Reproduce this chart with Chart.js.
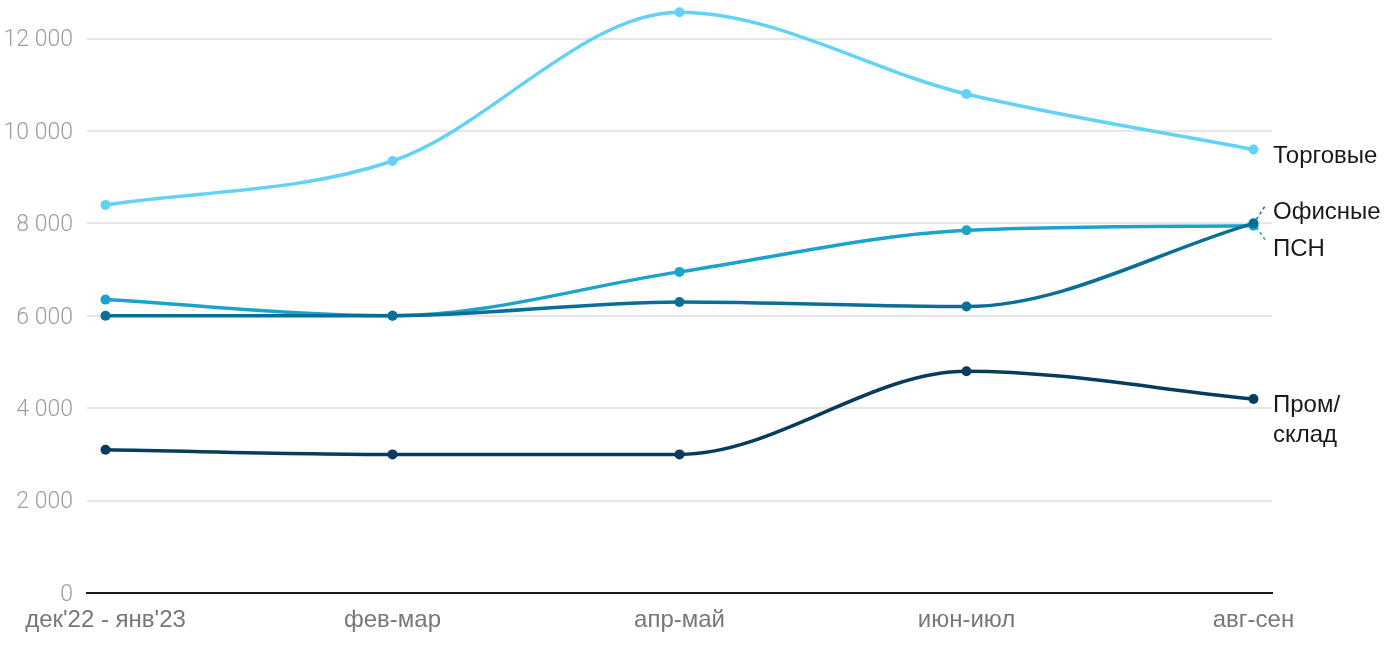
<!DOCTYPE html>
<html>
<head>
<meta charset="utf-8">
<script src="https://cdn.jsdelivr.net/npm/chart.js@4"></script>
<style>
  html, body { margin:0; padding:0; background:#fff; }
  #wrap { width:1400px; height:650px; position:relative; }
</style>
</head>
<body>
<div id="wrap"><canvas id="c"></canvas></div>
<script>
// периоды и значения
const periods  = ["дек'22 - янв'23", 'фев-мар', 'апр-май', 'июн-июл', 'авг-сен'];
const trade    = [8400, 9350, 12570, 10800, 9600];
const office   = [6350, 6000, 6950, 7850, 7950];
const psn      = [6000, 6000, 6300, 6200, 8000];
const industry = [3100, 3000, 3000, 4800, 4200];
const yTicks   = [0, 2000, 4000, 6000, 8000, 10000, 12000];

const COL = { trade:'#62d2f7', office:'#1ba3cc', psn:'#0a6f96', industry:'#063d5e' };

const fmt = v => String(v).replace(/\B(?=(\d{3})+(?!\d))/g, ' ');
const pts = arr => arr.map((v, i) => ({ x: i, y: v }));

function ds(label, arr, color, extra) {
  return Object.assign({
    label, data: pts(arr), borderColor: color, backgroundColor: color,
    borderWidth: 3.5, pointRadius: 5, pointHoverRadius: 5, pointBorderWidth: 0,
    cubicInterpolationMode: 'monotone', clip: false
  }, extra || {});
}

// подписи справа от последних точек
const endLabels = {
  id: 'endLabels',
  afterDatasetsDraw(chart) {
    const { ctx } = chart;
    const xs = chart.scales.x, ys = chart.scales.y;
    const px = xs.getPixelForValue(4);
    const x0 = 1273;
    ctx.save();
    ctx.font = '24px "Liberation Sans", Arial';
    ctx.fillStyle = '#1a1a1a';
    ctx.textBaseline = 'middle';
    ctx.textAlign = 'left';
    ctx.fillText('Торговые', x0, ys.getPixelForValue(trade[4]) + 7);
    const py = ys.getPixelForValue(psn[4]);
    ctx.fillText('Офисные', x0, py - 11);
    ctx.fillText('ПСН', x0, py + 26);
    const pi = ys.getPixelForValue(industry[4]);
    ctx.fillText('Пром/', x0, pi + 6);
    ctx.fillText('склад', x0, pi + 36);
    // пунктирные выноски
    ctx.lineWidth = 1.5;
    ctx.setLineDash([3, 3]);
    ctx.strokeStyle = COL.psn;
    ctx.beginPath(); ctx.moveTo(px + 3, py - 4); ctx.lineTo(px + 12, py - 18); ctx.stroke();
    ctx.strokeStyle = COL.office;
    ctx.beginPath(); ctx.moveTo(px + 3, py + 4); ctx.lineTo(px + 12, py + 17); ctx.stroke();
    ctx.restore();
  }
};

new Chart(document.getElementById('c'), {
  type: 'line',
  data: {
    // первый датасет рисуется поверх остальных
    datasets: [
      ds('ПСН', psn, COL.psn),
      ds('Офисные', office, COL.office),
      ds('Торговые', trade, COL.trade),
      ds('Пром/склад', industry, COL.industry)
    ]
  },
  options: {
    responsive: true, maintainAspectRatio: false, animation: false,
    layout: { padding: { top: 0, right: 128, bottom: 0, left: 0 } },
    plugins: { legend: { display: false }, tooltip: { enabled: false } },
    scales: {
      x: {
        type: 'linear', min: -0.0645, max: 4.0645,
        afterBuildTicks: s => { s.ticks = periods.map((p, i) => ({ value: i })); },
        afterFit: s => { s.height = 57; s.paddingLeft = 0; s.paddingRight = 0; },
        grid: { display: false, drawTicks: false },
        border: { display: true, color: '#1a1a1a', width: 2 },
        ticks: { color: '#777', font: { family: '"Liberation Sans", Arial', size: 24 }, padding: 13, maxRotation: 0, autoSkip: false,
                 callback: v => periods[v] }
      },
      y: {
        min: 0, max: 12726,
        afterBuildTicks: s => { s.ticks = yTicks.map(v => ({ value: v })); },
        afterFit: s => { s.width = 87; s.paddingTop = 0; s.paddingBottom = 0; },
        grid: { color: ctx => ctx.tick && ctx.tick.value === 0 ? 'rgba(0,0,0,0)' : '#e6e6e6', lineWidth: 2, drawTicks: false },
        border: { display: false },
        ticks: { color: '#9e9e9e', font: { family: 'Roboto', size: 23, weight: 300 }, padding: 14, labelOffset: 2, callback: v => fmt(v) }
      }
    }
  },
  plugins: [endLabels]
});
</script>
</body>
</html>
